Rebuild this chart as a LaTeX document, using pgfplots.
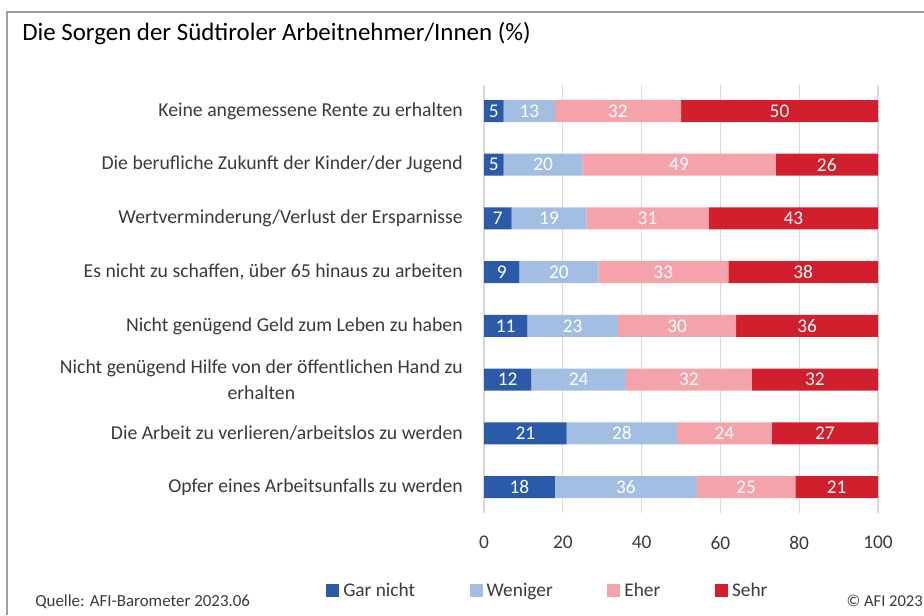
\documentclass[border=0pt]{standalone}
\usepackage{pgfplots}
\pgfplotsset{compat=1.18}
\usepackage{pgfplotstable}
\usepackage{fontspec}
\setmainfont{Carlito}
\definecolor{cA}{HTML}{2B5BA8}
\definecolor{cB}{HTML}{A3BEE3}
\definecolor{cC}{HTML}{F4A3AA}
\definecolor{cD}{HTML}{D11F2D}
\definecolor{txt}{HTML}{3A3A3A}
\definecolor{gridc}{HTML}{D9D9D9}
\definecolor{frame}{HTML}{A0A0A0}
\pgfplotstableread{
y gar wen eher sehr
0 5 13 32 50
1 5 20 49 26
2 7 19 31 43
3 9 20 33 38
4 11 23 30 36
5 12 24 32 32
6 21 28 24 27
7 18 36 25 21
}\data
\begin{document}
\begin{tikzpicture}
\path[use as bounding box] (0,0) rectangle (693pt,-461.25pt);
\draw[frame, line width=0.8pt] (5.25pt,-461.25pt) -- (5.25pt,-9pt) -- (693pt,-9pt);
\begin{scope}[x=0.75pt,y=-0.75pt]
\node[anchor=west, font=\fontsize{18.7}{22}\selectfont, text=black, inner sep=0pt] at (22,34) {Die Sorgen der Südtiroler Arbeitnehmer/Innen (\%)};
\node[anchor=west, font=\fontsize{12.7}{15}\selectfont, text=txt, inner sep=0pt] at (35,602) {Quelle: AFI-Barometer 2023.06};
\node[anchor=east, font=\fontsize{12.4}{15}\selectfont, text=txt, inner sep=0pt] at (923,601) {© AFI 2023};
\end{scope}
\begin{axis}[
  at={(363pt,-384.75pt)}, anchor=south west,
  scale only axis, width=295.5pt, height=321pt,
  xbar stacked, bar width=16.5pt,
  xmin=0, xmax=100, ymin=-0.484, ymax=7.484, y dir=reverse,
  xtick={0,20,40,60,80,100},
  ytick={0,...,7},
  yticklabels={Keine angemessene Rente zu erhalten,
    Die berufliche Zukunft der Kinder/der Jugend,
    Wertverminderung/Verlust der Ersparnisse,
    {Es nicht zu schaffen, über 65 hinaus zu arbeiten},
    Nicht genügend Geld zum Leben zu haben,
    {Nicht genügend Hilfe von der öffentlichen Hand zu\\erhalten},
    Die Arbeit zu verlieren/arbeitslos zu werden,
    Opfer eines Arbeitsunfalls zu werden},
  yticklabel style={font=\fontsize{14.8}{19}\selectfont, text=txt, align=center, inner sep=0pt, xshift=-15.75pt},
  xticklabel style={font=\fontsize{14.5}{16}\selectfont, text=txt, inner sep=0pt, yshift=-17pt},
  /pgf/number format/assume math mode=true,
  major tick length=0pt,
  tick style={draw=none},
  axis line style={draw=none},
  xmajorgrids, grid style={gridc, line width=0.8pt},
  legend columns=4,
  legend style={draw=none, fill=none, inner sep=0pt, at={(-0.401,-0.182)}, anchor=west,
    font=\fontsize{14.5}{17}\selectfont, text=txt,
    nodes={inner sep=1pt},
    /tikz/every odd column/.append style={column sep=2pt},
    /tikz/every even column/.append style={column sep=40pt}},
  legend image code/.code={\fill[#1] (0pt,-4.875pt) rectangle (9.75pt,4.875pt);},
]
\addplot[fill=cA, draw=none] table[x=gar, y=y] {\data};
\addplot[fill=cB, draw=none] table[x=wen, y=y] {\data};
\addplot[fill=cC, draw=none] table[x=eher, y=y] {\data};
\addplot[fill=cD, draw=none] table[x=sehr, y=y] {\data};
\legend{Gar nicht, Weniger, Eher, Sehr}
\end{axis}
\begin{axis}[
  at={(363pt,-384.75pt)}, anchor=south west,
  scale only axis, width=295.5pt, height=321pt,
  xmin=0, xmax=100, ymin=-0.484, ymax=7.484, y dir=reverse,
  hide axis,
  nodes near coords, point meta=explicit symbolic,
  every node near coord/.style={anchor=center, text=white, font=\fontsize{14.5}{16}\selectfont, inner sep=0pt},
]
\addplot[only marks, mark=none] table[x expr=\thisrow{gar}/2, y=y, meta=gar] {\data};
\addplot[only marks, mark=none] table[x expr=\thisrow{gar}+\thisrow{wen}/2, y=y, meta=wen] {\data};
\addplot[only marks, mark=none] table[x expr=\thisrow{gar}+\thisrow{wen}+\thisrow{eher}/2, y=y, meta=eher] {\data};
\addplot[only marks, mark=none] table[x expr=\thisrow{gar}+\thisrow{wen}+\thisrow{eher}+\thisrow{sehr}/2, y=y, meta=sehr] {\data};
\end{axis}
\end{tikzpicture}
\end{document}
